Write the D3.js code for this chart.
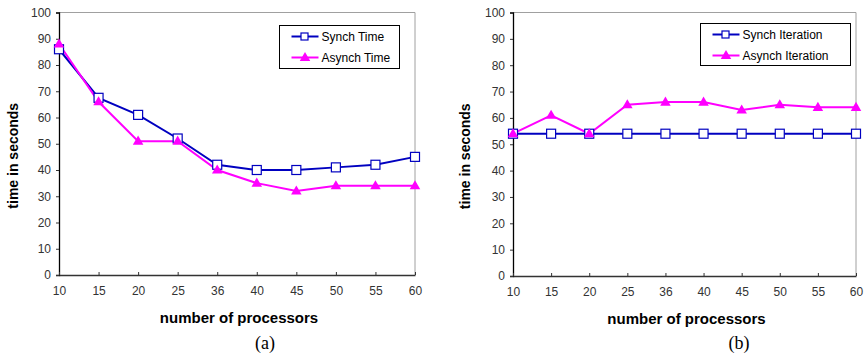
<!DOCTYPE html>
<html>
<head>
<meta charset="utf-8">
<script src="https://cdn.jsdelivr.net/npm/d3@7"></script>
<style>
  body { margin: 0; background: #fff; }
  svg { display: block; }
  .tick text { font-family: "Liberation Sans", Arial, sans-serif; font-size: 12px; fill: #333; }
</style>
</head>
<body>
<svg id="chart" width="864" height="356"></svg>
<script>
'use strict';

var processors = ['10', '15', '20', '25', '36', '40', '45', '50', '55', '60'];
var yTicks = [0, 10, 20, 30, 40, 50, 60, 70, 80, 90, 100];

var synchTime = [86, 67.5, 61, 52, 42, 40, 40, 41, 42, 45];
var asynchTime = [88, 66, 51, 51, 40, 35, 32, 34, 34, 34];

var synchIteration = [54, 54, 54, 54, 54, 54, 54, 54, 54, 54];
var asynchIteration = [54, 61, 54, 65, 66, 66, 63, 65, 64, 64];

var BLUE = '#0000c0', MAGENTA = '#ff00ff';

var svg = d3.select('#chart');

// one panel: box = plot area in page pixels, legend = legend box position
function panel(opts) {
  var g = svg.append('g');
  var x = d3.scalePoint().domain(processors).range([opts.left, opts.right]);
  var y = d3.scaleLinear().domain([0, 100]).range([opts.bottom, opts.top]);

  // plot frame: gray top/right
  g.append('path')
    .attr('d', 'M' + opts.left + ',' + opts.top + 'H' + opts.right + 'V' + opts.bottom)
    .attr('fill', 'none').attr('stroke', '#a0a0a0').attr('stroke-width', 1);

  var yAxis = g.append('g')
    .attr('transform', 'translate(' + opts.left + ',0)')
    .call(d3.axisLeft(y).tickValues(yTicks).tickSize(3).tickPadding(5));
  yAxis.select('.domain').attr('stroke', '#000').attr('stroke-width', 1.3);
  yAxis.selectAll('.tick line').attr('stroke', '#333');

  var xAxis = g.append('g')
    .attr('transform', 'translate(0,' + opts.bottom + ')')
    .call(d3.axisBottom(x).tickSizeInner(-3).tickSizeOuter(0).tickPadding(11));
  xAxis.select('.domain').attr('stroke', '#333').attr('stroke-width', 1.3);
  xAxis.selectAll('.tick line').attr('stroke', '#333');

  // axis titles
  g.append('text')
    .attr('x', (opts.left + opts.right) / 2 + 2).attr('y', opts.bottom + 48)
    .attr('text-anchor', 'middle')
    .style('font', 'bold 15px "Liberation Sans", Arial, sans-serif')
    .text('number of processors');
  g.append('text')
    .attr('transform', 'translate(' + opts.yTitleX + ',' + ((opts.top + opts.bottom) / 2 + 12) + ') rotate(-90)')
    .attr('text-anchor', 'middle')
    .style('font', 'bold 14px "Liberation Sans", Arial, sans-serif')
    .text('time in seconds');
  g.append('text')
    .attr('x', opts.captionX).attr('y', 349)
    .attr('text-anchor', 'middle')
    .style('font', '18px "Liberation Serif", "Times New Roman", serif')
    .text(opts.caption);

  var line = d3.line()
    .x(function(d, i) { return x(processors[i]); })
    .y(function(d) { return y(d); });

  // synch first, then asynch on top
  g.append('path').datum(opts.synch)
    .attr('d', line).attr('fill', 'none').attr('stroke', BLUE).attr('stroke-width', 2);
  g.append('path').datum(opts.asynch)
    .attr('d', line).attr('fill', 'none').attr('stroke', MAGENTA).attr('stroke-width', 2);

  g.selectAll('rect.sq').data(opts.synch).enter().append('rect')
    .attr('class', 'sq')
    .attr('x', function(d, i) { return x(processors[i]) - 4.5; })
    .attr('y', function(d) { return y(d) - 4.5; })
    .attr('width', 9).attr('height', 9)
    .attr('fill', '#fff').attr('stroke', BLUE).attr('stroke-width', 1.2);

  var tri = d3.symbol().type(d3.symbolTriangle).size(48);
  g.selectAll('path.tri').data(opts.asynch).enter().append('path')
    .attr('class', 'tri')
    .attr('d', tri)
    .attr('transform', function(d, i) { return 'translate(' + x(processors[i]) + ',' + (y(d) + 0.5) + ')'; })
    .attr('fill', MAGENTA);

  // legend
  var L = opts.legend;
  var lg = g.append('g').attr('transform', 'translate(' + L.x + ',' + L.y + ')');
  lg.append('rect').attr('width', L.w).attr('height', L.h)
    .attr('fill', '#fff').attr('stroke', '#000').attr('stroke-width', 1);
  var rows = [
    { name: opts.names[0], color: BLUE, sq: true },
    { name: opts.names[1], color: MAGENTA, sq: false }
  ];
  rows.forEach(function(r, i) {
    var cy = 11 + i * 21;
    lg.append('line').attr('x1', 12).attr('x2', 39).attr('y1', cy).attr('y2', cy)
      .attr('stroke', r.color).attr('stroke-width', 2);
    if (r.sq) {
      lg.append('rect').attr('x', 21.5).attr('y', cy - 3.5).attr('width', 7).attr('height', 7)
        .attr('fill', '#fff').attr('stroke', r.color).attr('stroke-width', 1.2);
    } else {
      lg.append('path').attr('d', tri).attr('transform', 'translate(25.5,' + (cy + 0.5) + ')')
        .attr('fill', r.color);
    }
    lg.append('text').attr('x', 42).attr('y', cy + 4)
      .style('font', '12px "Liberation Sans", Arial, sans-serif').attr('fill', '#000')
      .text(r.name);
  });
}

panel({
  left: 59, right: 415, top: 12.5, bottom: 275,
  synch: synchTime, asynch: asynchTime,
  names: ['Synch Time', 'Asynch Time'],
  legend: { x: 279.5, y: 25.5, w: 120, h: 43 },
  caption: '(a)', captionX: 265, yTitleX: 18
});

panel({
  left: 513, right: 856, top: 12.5, bottom: 276,
  synch: synchIteration, asynch: asynchIteration,
  names: ['Synch Iteration', 'Asynch Iteration'],
  legend: { x: 700.5, y: 23.5, w: 150, h: 42 },
  caption: '(b)', captionX: 739, yTitleX: 470
});
</script>
</body>
</html>
